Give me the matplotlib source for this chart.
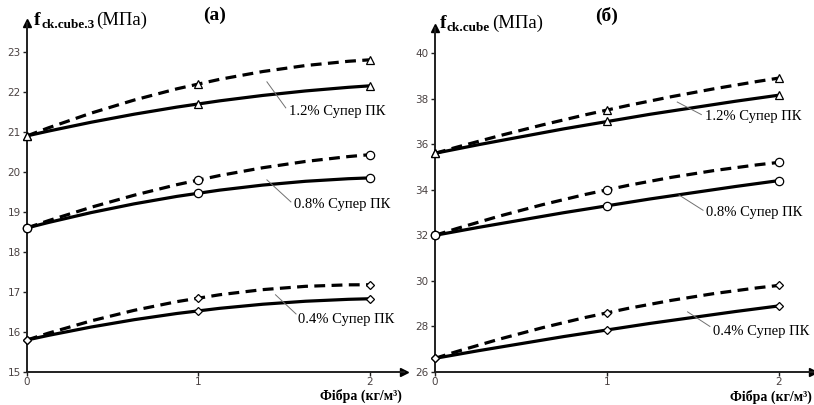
import matplotlib
matplotlib.use("Agg")
import matplotlib.pyplot as plt
import numpy as np
from matplotlib.path import Path
from matplotlib.patches import PathPatch

plt.rcParams['font.family'] = ['Liberation Serif', 'DejaVu Serif']

# fibre content, kg/m3
fibre = [0, 1, 2]

# (a) f_ck.cube.3, MPa : solid = measured, dashed = second series
a_12_solid = [20.9, 21.7, 22.15]
a_12_dash = [20.9, 22.2, 22.8]
a_08_solid = [18.6, 19.47, 19.85]
a_08_dash = [18.6, 19.8, 20.43]
a_04_solid = [15.8, 16.53, 16.83]
a_04_dash = [15.8, 16.85, 17.18]

# (б) f_ck.cube, MPa
b_12_solid = [35.6, 37.0, 38.15]
b_12_dash = [35.6, 37.5, 38.9]
b_08_solid = [32.0, 33.3, 34.4]
b_08_dash = [32.0, 34.0, 35.2]
b_04_solid = [26.6, 27.85, 28.9]
b_04_dash = [26.6, 28.6, 29.8]

group_labels = ['1.2% Супер ПК', '0.8% Супер ПК', '0.4% Супер ПК']
group_markers = ['^', 'o', 'D']
group_msize = [5.5, 6, 4.5]

a_yticks = list(range(15, 24))
b_yticks = list(range(26, 41, 2))
xticks = [0, 1, 2]

# label positions (data coords): leader start, leader end, text
a_notes = [((1.40, 22.25), (1.51, 21.6), (1.53, 21.5)),
           ((1.40, 19.8), (1.54, 19.25), (1.56, 19.18)),
           ((1.45, 16.93), (1.57, 16.45), (1.58, 16.3))]
b_notes = [((1.41, 37.85), (1.55, 37.3), (1.57, 37.2)),
           ((1.42, 33.77), (1.56, 33.1), (1.58, 32.98)),
           ((1.47, 28.64), (1.60, 28.0), (1.62, 27.76))]

tick_color = '#4a4242'


def smooth_line(ax, xs, ys, ls, marker, ms):
    # quadratic Bezier passing through the three points
    p0 = np.array([xs[0], ys[0]], float)
    p1 = np.array([xs[1], ys[1]], float)
    p2 = np.array([xs[2], ys[2]], float)
    c = 2 * p1 - (p0 + p2) / 2
    path = Path([p0, c, p2], [Path.MOVETO, Path.CURVE3, Path.CURVE3])
    patch = PathPatch(path, facecolor='none', edgecolor='black', lw=2.3,
                      linestyle=ls, capstyle='butt')
    ax.add_patch(patch)
    ax.plot(xs, ys, linestyle='none', marker=marker, ms=ms, mfc='white',
            mec='black', mew=0.9, zorder=5, clip_on=False)


def setup_axes(ax, ylim, yticks):
    ax.set_xlim(0, 2.2)
    ax.set_ylim(*ylim)
    for s in ['top', 'right']:
        ax.spines[s].set_visible(False)
    for s in ['left', 'bottom']:
        ax.spines[s].set_linewidth(1.4)
        ax.spines[s].set_color('#202020')
    ax.set_xticks(xticks)
    ax.set_yticks(yticks)
    ax.tick_params(direction='out', length=3, width=1, colors='#202020',
                   labelcolor=tick_color, labelsize=7.5, pad=1.5)
    ax.tick_params(axis='x', pad=0.5)
    for lab in ax.get_xticklabels() + ax.get_yticklabels():
        lab.set_family('DejaVu Sans')
    ax.plot(1, 0, '>k', ms=6, transform=ax.transAxes, clip_on=False)
    ax.plot(0, 1, '^k', ms=6, transform=ax.transAxes, clip_on=False)


def draw_panel(ax, series, notes):
    for i, (solid, dash) in enumerate(series):
        smooth_line(ax, fibre, dash, (0, (3.4, 2.0)), group_markers[i], group_msize[i])
        smooth_line(ax, fibre, solid, '-', group_markers[i], group_msize[i])
        (x0, y0), (x1, y1), (xt, yt) = notes[i]
        ax.plot([x0, x1], [y0, y1], color='#707070', lw=0.7)
        ax.text(xt, yt, group_labels[i], fontsize=10.5, ha='left', va='center')


def y_label(x_px, y_px, sub):
    # bold f, bold subscript, then units; each piece placed after the last
    r = fig.canvas.get_renderer()
    t = fig.text(x_px / 814, 1 - y_px / 405, 'f', fontsize=14, fontweight='bold',
                 ha='left', va='baseline')
    x_end = t.get_window_extent(r).x1
    t = fig.text((x_end + 0.5) / 814, 1 - (y_px + 3) / 405, sub, fontsize=9.5,
                 fontweight='bold', ha='left', va='baseline')
    x_end = t.get_window_extent(r).x1
    fig.text((x_end + 1.5) / 814, 1 - y_px / 405, '(МПа)', fontsize=13.5,
             ha='left', va='baseline')


fig = plt.figure(figsize=(8.14, 4.05), dpi=100)

ax1 = fig.add_axes([27 / 814, 1 - 372 / 405, 377 / 814, 349 / 405])
setup_axes(ax1, (15, 23.72), a_yticks)
draw_panel(ax1, [(a_12_solid, a_12_dash), (a_08_solid, a_08_dash),
                 (a_04_solid, a_04_dash)], a_notes)

ax2 = fig.add_axes([435 / 814, 1 - 372 / 405, 378 / 814, 344 / 405])
setup_axes(ax2, (26, 41.1), b_yticks)
draw_panel(ax2, [(b_12_solid, b_12_dash), (b_08_solid, b_08_dash),
                 (b_04_solid, b_04_dash)], b_notes)

# titles
fig.text(215 / 814, 1 - 15 / 405, '(a)', fontsize=14, fontweight='bold',
         ha='center', va='center')
fig.text(607 / 814, 1 - 16 / 405, '(б)', fontsize=14, fontweight='bold',
         ha='center', va='center')

# y labels
y_label(34, 25, 'ck.cube.3')
y_label(440, 28, 'ck.cube')

# x labels
fig.text(402 / 814, 1 - 396 / 405, 'Фібра (кг/м³)', fontsize=10, fontweight='bold',
         ha='right', va='center')
fig.text(812 / 814, 1 - 397 / 405, 'Фібра (кг/м³)', fontsize=10, fontweight='bold',
         ha='right', va='center')

fig.savefig('out.png', dpi=100)
